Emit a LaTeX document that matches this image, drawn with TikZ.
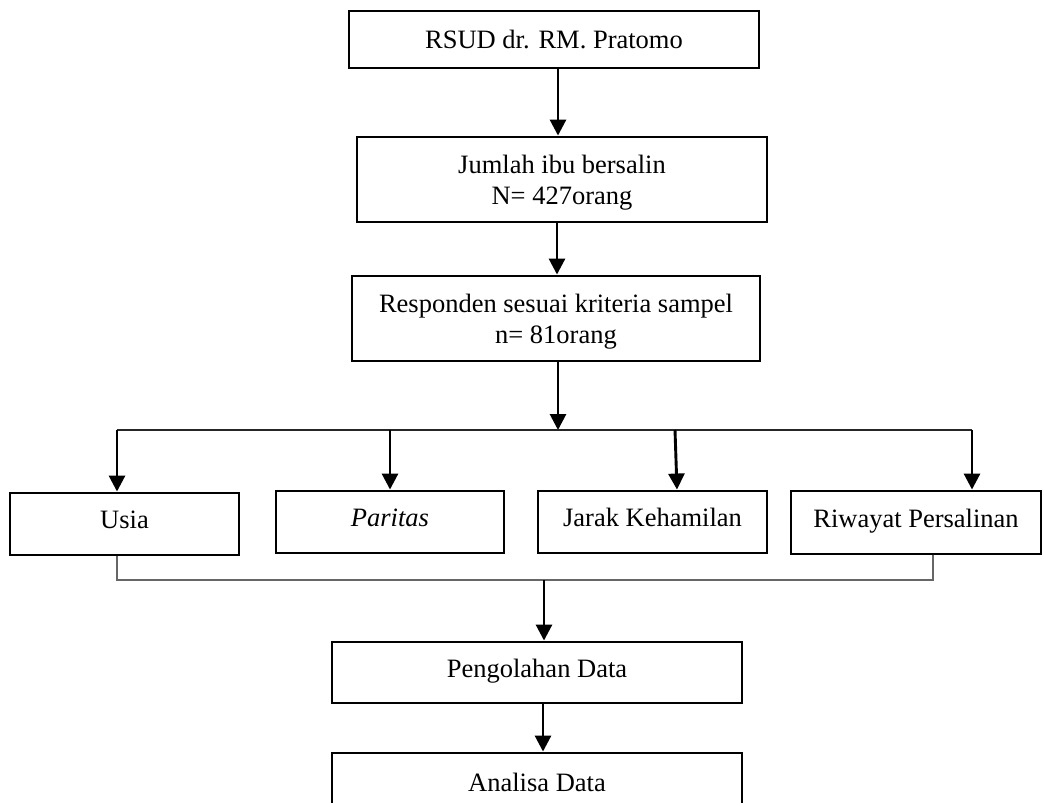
\documentclass[tikz,border=0pt]{standalone}
\usepackage{fontspec}
\setmainfont{Liberation Serif}
\usetikzlibrary{arrows.meta}
\tikzset{
  box/.style={draw=black, line width=2.9pt, rectangle, inner sep=0pt, align=center,
    font=\fontsize{26.5}{31}\selectfont},
  onel/.style={text height=19pt, text depth=10pt},
  twol/.style={text depth=0pt},
  arr/.style={line width=2.9pt, -{Triangle[width=16pt,length=16pt]}},
  link/.style={line width=1.6pt, draw=black!85},
  bracket/.style={line width=1.6pt, draw=black!60},
}
\begin{document}
\begin{tikzpicture}[x=1pt,y=-1pt]
\useasboundingbox (0,0) rectangle (1044,803);
\clip (0,0) rectangle (1044,803);
\fill[white] (0,0) rectangle (1044,803);
% top chain
\node[box, minimum width=410, minimum height=57] (rsud) at (554,39.5) {RSUD dr. RM. Pratomo};
\node[box, twol, minimum width=410, minimum height=85] (jml) at (562,179.5) {Jumlah ibu bersalin\\N= 427orang};
\node[box, twol, minimum width=408, minimum height=85] (resp) at (556,318.5) {Responden sesuai kriteria sampel\\n= 81orang};
% four variables
\node[box, onel, minimum width=229, minimum height=62] (usia) at (124.5,524) {Usia};
\node[box, onel, minimum width=228, minimum height=62] (par) at (390,522) {\itshape Paritas};
\node[box, onel, minimum width=229, minimum height=62] (jarak) at (652.5,522) {Jarak Kehamilan};
\node[box, onel, minimum width=250, minimum height=63] (riw) at (916,522.5) {Riwayat Persalinan};
% bottom chain
\node[box, onel, minimum width=410, minimum height=61] (peng) at (537,672.5) {Pengolahan Data};
\node[box, minimum width=410, minimum height=59] (ana) at (537,782.5) {Analisa Data};
% junction coordinates
\coordinate (hub) at (558,430);
\coordinate (tl) at (117,430);
\coordinate (tr) at (972,430);
\coordinate (tj) at (675,430);
\coordinate (bl) at (117,580);
\coordinate (br) at (933,580);
\coordinate (bm) at (544,580);
% connectors
\draw[arr] ([xshift=4]rsud.south) -- ([xshift=-4]jml.north);
\draw[arr] ([xshift=-5]jml.south) -- ([xshift=1]resp.north);
\draw[arr] ([xshift=2]resp.south) -- (hub);
\draw[link] (tl) -- (tr);
\draw[arr] (tl) -- (tl |- usia.north);
\draw[arr] (par.north |- tl) -- (par.north);
\draw[arr] (tj) -- ([xshift=24.5]jarak.north);
\draw[arr] (tr) -- (tr |- riw.north);
\draw[bracket] (tl |- usia.south) -- (bl) -- (br) -- (br |- riw.south);
\draw[arr] (bm) -- (bm |- peng.north);
\draw[arr] ([xshift=6]peng.south) -- ([xshift=6]ana.north);
\end{tikzpicture}
\end{document}
